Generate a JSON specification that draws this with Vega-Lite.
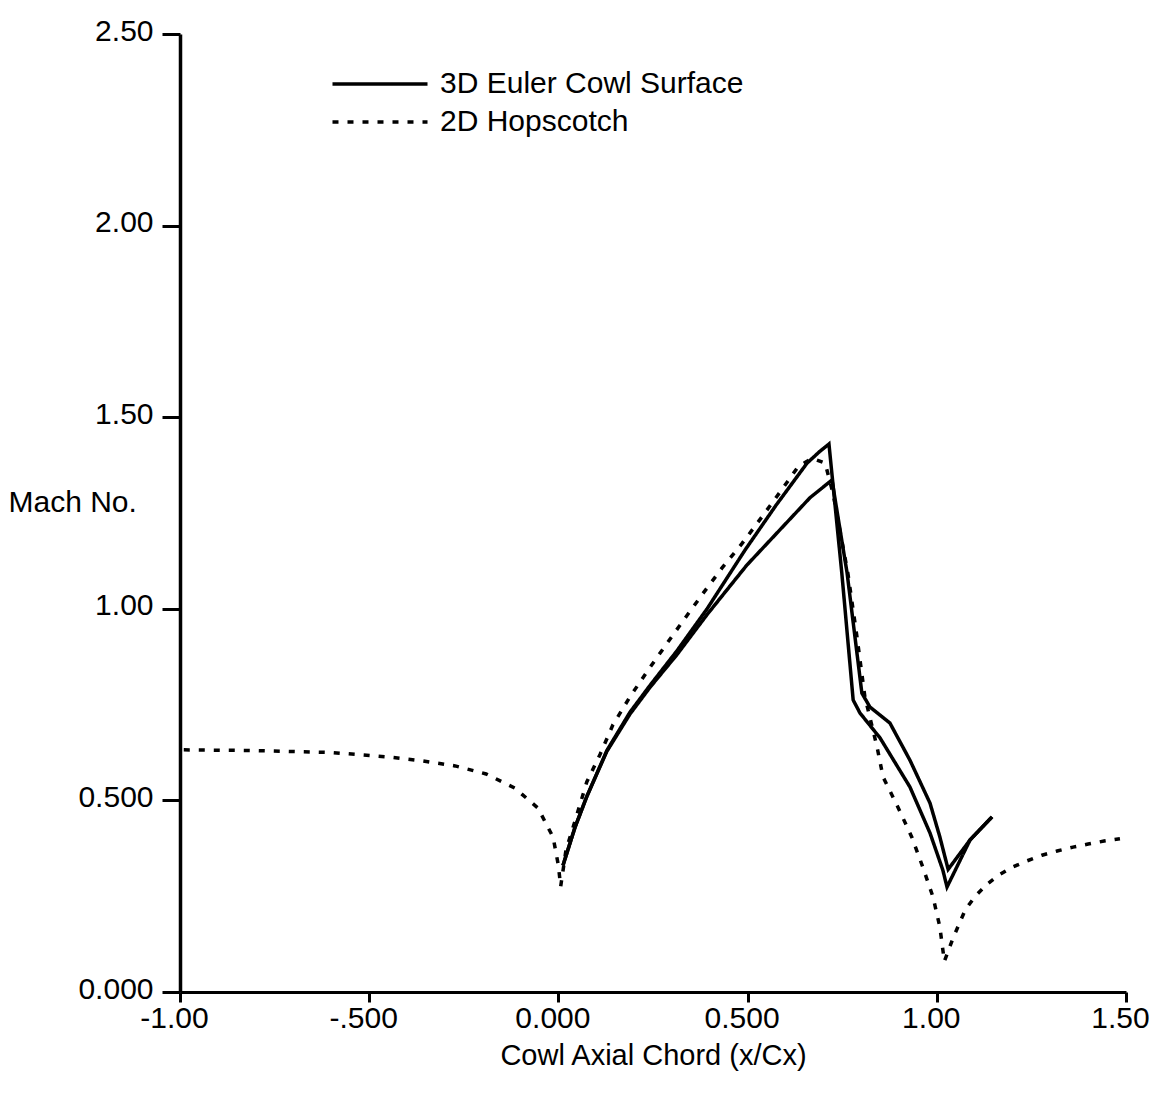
{
  "$schema": "https://vega.github.io/schema/vega-lite/v6.json",
  "width": 946,
  "height": 958,
  "autosize": {"type": "none"},
  "padding": {"left": 180, "top": 34, "right": 40, "bottom": 111},
  "background": "white",
  "config": {"view": {"stroke": null}, "font": "Liberation Sans"},
  "data": {
    "values": [
      {"curve": "A", "series": "3D Euler Cowl Surface", "x": 0.012, "y": 0.33},
      {"curve": "A", "series": "3D Euler Cowl Surface", "x": 0.044, "y": 0.43},
      {"curve": "A", "series": "3D Euler Cowl Surface", "x": 0.075, "y": 0.51},
      {"curve": "A", "series": "3D Euler Cowl Surface", "x": 0.128, "y": 0.63},
      {"curve": "A", "series": "3D Euler Cowl Surface", "x": 0.189, "y": 0.73},
      {"curve": "A", "series": "3D Euler Cowl Surface", "x": 0.242, "y": 0.80},
      {"curve": "A", "series": "3D Euler Cowl Surface", "x": 0.313, "y": 0.89},
      {"curve": "A", "series": "3D Euler Cowl Surface", "x": 0.393, "y": 1.0},
      {"curve": "A", "series": "3D Euler Cowl Surface", "x": 0.493, "y": 1.153},
      {"curve": "A", "series": "3D Euler Cowl Surface", "x": 0.575, "y": 1.27},
      {"curve": "A", "series": "3D Euler Cowl Surface", "x": 0.657, "y": 1.38},
      {"curve": "A", "series": "3D Euler Cowl Surface", "x": 0.69, "y": 1.41},
      {"curve": "A", "series": "3D Euler Cowl Surface", "x": 0.715, "y": 1.43},
      {"curve": "A", "series": "3D Euler Cowl Surface", "x": 0.749, "y": 1.093},
      {"curve": "A", "series": "3D Euler Cowl Surface", "x": 0.779, "y": 0.762},
      {"curve": "A", "series": "3D Euler Cowl Surface", "x": 0.797, "y": 0.728},
      {"curve": "A", "series": "3D Euler Cowl Surface", "x": 0.85, "y": 0.663},
      {"curve": "A", "series": "3D Euler Cowl Surface", "x": 0.929, "y": 0.535},
      {"curve": "A", "series": "3D Euler Cowl Surface", "x": 0.982, "y": 0.415},
      {"curve": "A", "series": "3D Euler Cowl Surface", "x": 1.016, "y": 0.318},
      {"curve": "A", "series": "3D Euler Cowl Surface", "x": 1.027, "y": 0.274},
      {"curve": "A", "series": "3D Euler Cowl Surface", "x": 1.088, "y": 0.397},
      {"curve": "A", "series": "3D Euler Cowl Surface", "x": 1.146, "y": 0.457},
      {"curve": "B", "series": "3D Euler Cowl Surface", "x": 0.012, "y": 0.33},
      {"curve": "B", "series": "3D Euler Cowl Surface", "x": 0.044, "y": 0.43},
      {"curve": "B", "series": "3D Euler Cowl Surface", "x": 0.075, "y": 0.51},
      {"curve": "B", "series": "3D Euler Cowl Surface", "x": 0.128, "y": 0.628},
      {"curve": "B", "series": "3D Euler Cowl Surface", "x": 0.189, "y": 0.725},
      {"curve": "B", "series": "3D Euler Cowl Surface", "x": 0.242, "y": 0.795},
      {"curve": "B", "series": "3D Euler Cowl Surface", "x": 0.313, "y": 0.88},
      {"curve": "B", "series": "3D Euler Cowl Surface", "x": 0.393, "y": 0.985},
      {"curve": "B", "series": "3D Euler Cowl Surface", "x": 0.498, "y": 1.114},
      {"curve": "B", "series": "3D Euler Cowl Surface", "x": 0.665, "y": 1.29},
      {"curve": "B", "series": "3D Euler Cowl Surface", "x": 0.723, "y": 1.336},
      {"curve": "B", "series": "3D Euler Cowl Surface", "x": 0.763, "y": 1.093},
      {"curve": "B", "series": "3D Euler Cowl Surface", "x": 0.802, "y": 0.78},
      {"curve": "B", "series": "3D Euler Cowl Surface", "x": 0.823, "y": 0.744},
      {"curve": "B", "series": "3D Euler Cowl Surface", "x": 0.876, "y": 0.702},
      {"curve": "B", "series": "3D Euler Cowl Surface", "x": 0.929, "y": 0.605},
      {"curve": "B", "series": "3D Euler Cowl Surface", "x": 0.982, "y": 0.493},
      {"curve": "B", "series": "3D Euler Cowl Surface", "x": 1.008, "y": 0.405},
      {"curve": "B", "series": "3D Euler Cowl Surface", "x": 1.03, "y": 0.32},
      {"curve": "B", "series": "3D Euler Cowl Surface", "x": 1.088, "y": 0.397},
      {"curve": "B", "series": "3D Euler Cowl Surface", "x": 1.146, "y": 0.457},
      {"curve": "H", "series": "2D Hopscotch", "x": -0.99, "y": 0.632},
      {"curve": "H", "series": "2D Hopscotch", "x": -0.8, "y": 0.63},
      {"curve": "H", "series": "2D Hopscotch", "x": -0.6, "y": 0.625},
      {"curve": "H", "series": "2D Hopscotch", "x": -0.445, "y": 0.613},
      {"curve": "H", "series": "2D Hopscotch", "x": -0.358, "y": 0.603},
      {"curve": "H", "series": "2D Hopscotch", "x": -0.273, "y": 0.59},
      {"curve": "H", "series": "2D Hopscotch", "x": -0.191, "y": 0.569},
      {"curve": "H", "series": "2D Hopscotch", "x": -0.115, "y": 0.532},
      {"curve": "H", "series": "2D Hopscotch", "x": -0.054, "y": 0.48},
      {"curve": "H", "series": "2D Hopscotch", "x": -0.014, "y": 0.404},
      {"curve": "H", "series": "2D Hopscotch", "x": 0.0, "y": 0.33},
      {"curve": "H", "series": "2D Hopscotch", "x": 0.006, "y": 0.275},
      {"curve": "H", "series": "2D Hopscotch", "x": 0.02, "y": 0.37},
      {"curve": "H", "series": "2D Hopscotch", "x": 0.045, "y": 0.45},
      {"curve": "H", "series": "2D Hopscotch", "x": 0.075, "y": 0.548},
      {"curve": "H", "series": "2D Hopscotch", "x": 0.11, "y": 0.62},
      {"curve": "H", "series": "2D Hopscotch", "x": 0.144, "y": 0.697},
      {"curve": "H", "series": "2D Hopscotch", "x": 0.189, "y": 0.77},
      {"curve": "H", "series": "2D Hopscotch", "x": 0.237, "y": 0.84},
      {"curve": "H", "series": "2D Hopscotch", "x": 0.287, "y": 0.91},
      {"curve": "H", "series": "2D Hopscotch", "x": 0.335, "y": 0.976},
      {"curve": "H", "series": "2D Hopscotch", "x": 0.382, "y": 1.04},
      {"curve": "H", "series": "2D Hopscotch", "x": 0.432, "y": 1.106},
      {"curve": "H", "series": "2D Hopscotch", "x": 0.485, "y": 1.17},
      {"curve": "H", "series": "2D Hopscotch", "x": 0.538, "y": 1.24},
      {"curve": "H", "series": "2D Hopscotch", "x": 0.586, "y": 1.305},
      {"curve": "H", "series": "2D Hopscotch", "x": 0.633, "y": 1.37},
      {"curve": "H", "series": "2D Hopscotch", "x": 0.67, "y": 1.393},
      {"curve": "H", "series": "2D Hopscotch", "x": 0.705, "y": 1.38},
      {"curve": "H", "series": "2D Hopscotch", "x": 0.726, "y": 1.30},
      {"curve": "H", "series": "2D Hopscotch", "x": 0.765, "y": 1.093},
      {"curve": "H", "series": "2D Hopscotch", "x": 0.789, "y": 0.927},
      {"curve": "H", "series": "2D Hopscotch", "x": 0.81, "y": 0.77},
      {"curve": "H", "series": "2D Hopscotch", "x": 0.842, "y": 0.64},
      {"curve": "H", "series": "2D Hopscotch", "x": 0.858, "y": 0.561},
      {"curve": "H", "series": "2D Hopscotch", "x": 0.897, "y": 0.483},
      {"curve": "H", "series": "2D Hopscotch", "x": 0.934, "y": 0.404},
      {"curve": "H", "series": "2D Hopscotch", "x": 0.963, "y": 0.326},
      {"curve": "H", "series": "2D Hopscotch", "x": 0.99, "y": 0.248},
      {"curve": "H", "series": "2D Hopscotch", "x": 1.008, "y": 0.17},
      {"curve": "H", "series": "2D Hopscotch", "x": 1.02, "y": 0.08},
      {"curve": "H", "series": "2D Hopscotch", "x": 1.043, "y": 0.141},
      {"curve": "H", "series": "2D Hopscotch", "x": 1.075, "y": 0.214},
      {"curve": "H", "series": "2D Hopscotch", "x": 1.1, "y": 0.248},
      {"curve": "H", "series": "2D Hopscotch", "x": 1.13, "y": 0.279},
      {"curve": "H", "series": "2D Hopscotch", "x": 1.162, "y": 0.304},
      {"curve": "H", "series": "2D Hopscotch", "x": 1.2, "y": 0.326},
      {"curve": "H", "series": "2D Hopscotch", "x": 1.238, "y": 0.342},
      {"curve": "H", "series": "2D Hopscotch", "x": 1.278, "y": 0.357},
      {"curve": "H", "series": "2D Hopscotch", "x": 1.318, "y": 0.368},
      {"curve": "H", "series": "2D Hopscotch", "x": 1.36, "y": 0.378},
      {"curve": "H", "series": "2D Hopscotch", "x": 1.40, "y": 0.386},
      {"curve": "H", "series": "2D Hopscotch", "x": 1.442, "y": 0.394},
      {"curve": "H", "series": "2D Hopscotch", "x": 1.484, "y": 0.40}
    ]
  },
  "mark": {"type": "line", "color": "black", "strokeWidth": 3.5, "clip": false},
  "encoding": {
    "x": {
      "field": "x", "type": "quantitative",
      "scale": {"domain": [-1, 1.5], "nice": false, "zero": false},
      "axis": {
        "values": [-1, -0.5, 0, 0.5, 1, 1.5],
        "labelExpr": "datum.value == -1 ? '-1.00' : datum.value == -0.5 ? '-.500' : datum.value == 0 ? '0.000' : datum.value == 0.5 ? '0.500' : format(datum.value, '.2f')",
        "title": "Cowl Axial Chord (x/Cx)",
        "grid": false,
        "domainColor": "black", "domainWidth": 3,
        "tickColor": "black", "tickWidth": 3, "tickSize": 10,
        "labelFontSize": 30, "labelColor": "black", "labelPadding": 1, "labelOffset": -6,
        "labelFlush": false, "labelOverlap": false, "labelBound": false,
        "titleFontSize": 29, "titleFontWeight": "normal", "titleColor": "black",
        "titleY": 72, "titleBaseline": "alphabetic"
      }
    },
    "y": {
      "field": "y", "type": "quantitative",
      "scale": {"domain": [0, 2.5], "nice": false},
      "axis": {
        "values": [0, 0.5, 1, 1.5, 2, 2.5],
        "labelExpr": "datum.value < 1 ? format(datum.value, '.3f') : format(datum.value, '.2f')",
        "title": "Mach No.",
        "grid": false,
        "domainColor": "black", "domainWidth": 3.5,
        "tickColor": "black", "tickWidth": 3, "tickSize": 18,
        "labelFontSize": 30, "labelColor": "black", "labelPadding": 9, "labelOffset": -3,
        "labelFlush": false, "labelOverlap": false, "labelBound": false,
        "titleFontSize": 30, "titleFontWeight": "normal", "titleColor": "black",
        "titleAngle": 0, "titleX": -172, "titleY": 477, "titleAlign": "left", "titleBaseline": "alphabetic"
      }
    },
    "strokeDash": {
      "field": "series", "type": "nominal",
      "scale": {"domain": ["3D Euler Cowl Surface", "2D Hopscotch"], "range": [[1, 0], [6, 9]]},
      "legend": {
        "orient": "none", "legendX": 182, "legendY": 32, "title": null,
        "symbolType": "M-3,0H3", "symbolSize": 1003, "symbolStrokeWidth": 3.5,
        "symbolStrokeColor": "black", "symbolFillColor": "transparent",
        "labelFontSize": 30, "labelColor": "black", "labelOffset": 42, "labelLimit": 0,
        "rowPadding": 5, "padding": 0
      }
    },
    "detail": {"field": "curve"}
  }
}
